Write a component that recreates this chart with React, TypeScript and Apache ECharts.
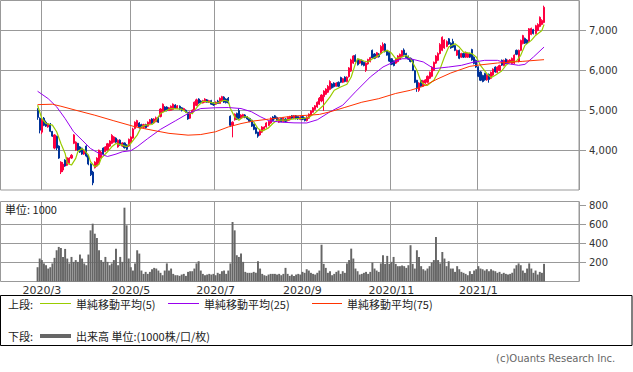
import React, { useEffect, useRef } from 'react';
import * as echarts from 'echarts';

// ---- data ----
const FIRST_DAY = '2020-02-27';
const LAST_DAY = '2021-02-18';
const HOLIDAYS = [
  '2020-03-20', '2020-04-29', '2020-05-04', '2020-05-05', '2020-05-06',
  '2020-07-23', '2020-07-24', '2020-08-10', '2020-09-21', '2020-09-22',
  '2020-11-03', '2020-11-23', '2020-12-31', '2021-01-01', '2021-01-11', '2021-02-11',
];
const PAD_BEFORE = 17;
const PAD_AFTER = 16;

// [open, close, low, high] per trading day
const OHLC: number[][] = [
  [5000,4820,4760,5050],[4800,4500,4420,4820],[4450,4750,4400,4800],[4800,4620,4600,4830],[4700,4600,4580,4740],
  [4580,4660,4560,4680],[4650,4470,4450,4680],[4470,4350,4330,4480],[4050,4380,4020,4400],[4350,4050,4000,4360],
  [4100,3800,3780,4120],[3450,3700,3400,3720],[3500,3650,3450,3700],[3750,3600,3580,3770],[3620,3810,3600,3830],
  [3680,3800,3660,3820],[3800,3870,3780,3900],[4170,4380,4150,4400],[4000,4200,3980,4220],[4170,4000,3980,4180],
  [4080,3950,3930,4100],[4050,3900,3880,4060],[3900,4000,3880,4020],[4100,3850,3820,4120],[3870,3650,3620,3880],
  [3650,3380,3350,3670],[3450,3180,3120,3480],[3560,3700,3540,3720],[3600,3800,3580,3820],[3680,4000,3660,4010],
  [3800,3950,3790,3980],[4050,3900,3880,4070],[3960,4080,3950,4100],[4000,4160,3990,4180],[4100,4230,4080,4250],
  [4170,4370,4150,4400],[4200,4330,4190,4350],[4300,4200,4180,4320],[4080,4250,4060,4270],[4250,4130,4110,4270],
  [4100,4180,4080,4200],[4180,4060,4040,4190],[4130,4020,4000,4150],[4100,4270,4080,4290],[4200,4330,4180,4350],
  [4300,4530,4290,4560],[4540,4700,4520,4720],[4600,4740,4580,4760],[4680,4560,4540,4700],[4640,4570,4550,4660],
  [4570,4640,4560,4660],[4640,4560,4540,4660],[4600,4700,4580,4720],[4660,4760,4640,4780],[4780,4680,4660,4800],
  [4680,4780,4660,4800],[4710,4810,4700,4840],[4820,4700,4680,4840],[4840,5030,4820,5050],[4960,5150,4940,5170],
  [5080,4980,4960,5100],
  [5080,4990,4970,5100],[4990,5060,4980,5080],[5000,5100,4990,5120],[5020,5150,5000,5170],[5130,5060,5040,5150],
  [5050,5110,5040,5130],[5100,5030,5010,5120],[5060,4990,4970,5080],[4990,5040,4980,5060],[5000,4960,4940,5020],
  [4950,4780,4760,4960],[4800,4950,4780,4970],[4920,5000,4900,5020],[5000,5200,4990,5220],[5120,5260,5100,5290],
  [5280,5180,5160,5300],[5230,5180,5160,5250],[5180,5240,5170,5260],[5200,5280,5190,5300],[5260,5200,5190,5280],
  [5200,5240,5180,5260],[5240,5150,5130,5260],[5180,5130,5110,5200],[5150,5200,5130,5220],[5230,5170,5160,5260],
  [5170,5300,5160,5320],[5230,5340,5220,5360],[5330,5200,5180,5350],[5280,5190,5170,5300],[5300,5180,5160,5330],
  [4850,4620,4580,4870],[4620,4700,4320,4720],[4760,4900,4740,4920],[4920,4780,4760,4940],[4990,4800,4780,5050],
  [4800,4880,4780,4900],[4820,4890,4800,4910],[4880,4820,4800,4900],[4830,4780,4760,4850],[4790,4720,4700,4810],
  [4750,4600,4580,4760],[4650,4520,4500,4660],[4560,4420,4400,4580],[4450,4350,4310,4460],[4380,4480,4360,4500],
  [4450,4580,4430,4600],[4520,4580,4500,4600],[4580,4680,4560,4700],[4620,4720,4600,4740],[4680,4800,4660,4820],
  [4830,4740,4720,4850],[4860,4790,4770,4880],[4820,4740,4720,4840],[4700,4780,4680,4800],[4790,4710,4700,4810],
  [4720,4800,4700,4820],[4780,4720,4700,4800],[4740,4820,4720,4840],[4760,4840,4740,4860],[4860,4800,4780,4880],
  [4800,4860,4780,4880],[4860,4790,4770,4880],[4840,4780,4760,4850],
  [4770,4830,4750,4850],[4840,4770,4750,4860],[4800,4740,4720,4820],[4740,4830,4720,4850],[4800,4900,4780,4920],
  [4880,4980,4860,5000],[4950,5060,4940,5080],[5020,5110,5000,5130],[5080,5200,5060,5220],[5150,5300,5130,5330],
  [5230,5380,5200,5400],[5340,5480,4980,5500],[5400,5530,5380,5550],[5450,5600,5430,5630],[5520,5720,5500,5750],
  [5660,5560,5540,5680],[5680,5590,5570,5700],[5600,5680,5590,5700],[5700,5600,5580,5720],[5820,5700,5680,5840],
  [5700,5790,5680,5810],[5830,5720,5700,5850],[5720,5830,5700,5850],[5840,6060,5820,6080],[5980,6260,5960,6290],
  [6180,6360,6160,6380],[6370,6220,6200,6400],[6270,6140,6120,6290],[6180,6250,6160,6270],[6250,6140,6120,6270],
  [6200,6120,6100,6220],[6000,6180,5960,6200],[6160,6270,6140,6290],[6220,6320,6200,6340],[6500,6310,6290,6520],
  [6410,6300,6280,6430],[6330,6440,6310,6460],[6410,6340,6320,6430],[6420,6600,6400,6630],[6500,6650,6480,6700],
  [6660,6470,6450,6680],[6500,6380,6370,6510],[6450,6230,6210,6470],[6290,6150,6130,6300],[6240,6120,6100,6250],
  [6180,6280,6160,6300],[6220,6360,6200,6380],[6280,6400,6270,6420],[6340,6490,6320,6510],[6510,6390,6370,6550],
  [6420,6320,6300,6440],[6350,6280,6260,6370],[6300,6220,6200,6320],[6250,6000,5980,6280],[5990,5700,5680,6010],
  [5750,5550,5460,5760],[5500,5680,5460,5700],[5750,5600,5580,5760],[5600,5740,5580,5760],[5680,5760,5660,5780],
  [5700,5850,5680,5870],[5800,5950,5780,5970],[5850,6080,5830,6100],[6000,6200,5980,6220],[6180,6360,6160,6380],
  [6250,6420,6230,6450],[6420,6650,6400,6680],[6500,6830,6480,6850],[6560,6760,6540,6780],[6600,6720,6580,6750],
  [6790,6660,6640,6810],[6680,6560,6540,6700],[6720,6580,6560,6790],[6620,6500,6480,6640],[6380,6500,6360,6520],
  [6500,6300,6280,6520],[6330,6420,6310,6440],[6420,6330,6310,6440],[6330,6450,6310,6470],[6330,6420,6310,6440],
  [6420,6330,6310,6440],[6520,6260,6240,6540],[6330,6170,6150,6350],[6250,6080,6060,6270],[6080,5850,5830,6100],
  [5960,5750,5730,5980],[5870,5720,5700,5890],[5920,5760,5740,5940],[5760,5880,5740,5900],[5900,5770,5690,5920],
  [5800,5950,5780,5970],[5880,6030,5860,6050],[6080,5960,5940,6100],[5950,6080,5930,6100],[6000,6120,5980,6140],
  [6250,6130,6110,6270],[6120,6250,6100,6270],[6280,6170,6150,6300],[6180,6250,6160,6270],[6200,6260,6180,6280],
  [6170,6300,6150,6320],[6180,6380,6160,6400],[6500,6400,6380,6520],[6220,6500,6200,6520],[6500,6750,6480,6770],
  [6670,6870,6650,6890],[6800,6680,6660,6820],[6760,6680,6660,6780],[6720,7040,6700,7060],[6900,7050,6880,7070],
  [7020,6920,6900,7040],[6920,7120,6900,7140],[7000,7150,6980,7180],[7100,7330,7080,7350],[7150,7250,7130,7280],
  [7200,7580,7180,7620],
];

// volume (thousand shares) per trading day
const VOLUME: number[] = [
  150,241,225,190,171,136,150,190,248,328,363,352,258,342,241,190,258,206,225,206,
  283,241,190,171,283,537,607,502,457,328,225,206,258,206,171,190,225,345,171,258,
  206,775,590,241,150,115,190,328,293,115,80,101,80,101,129,143,136,115,91,66,
  115,190,115,136,80,66,66,59,73,80,59,101,108,108,136,190,213,115,80,66,
  73,80,73,80,66,91,80,108,115,80,115,190,625,537,276,258,293,206,101,91,
  91,91,101,91,213,136,80,66,59,73,80,80,80,73,80,66,80,143,80,59,
  73,59,73,80,73,101,91,129,115,91,80,73,91,115,386,185,143,91,108,66,
  80,101,115,80,108,91,190,225,345,241,136,108,73,80,91,101,80,101,199,136,
  115,101,190,276,185,269,185,206,258,185,161,161,168,161,143,171,381,185,136,328,
  258,161,129,115,136,161,199,225,467,225,190,310,241,161,213,136,136,101,161,129,
  101,91,80,66,108,80,115,129,161,136,129,115,129,108,129,115,108,91,101,80,
  91,80,73,80,91,136,171,190,171,115,91,136,190,136,91,115,73,101,91,185,
];

// moving averages: [trading-day index, value]
const MA5: number[][] = [
  [0,5125],[2,4792],[4,4667],[7,4625],[9,4460],[11,4167],[13,3917],[14,3667],[16,3625],[18,3792],
  [19,3958],[21,4042],[22,4000],[24,3875],[25,3708],[27,3583],[29,3642],[30,3792],[33,3958],[35,4083],
  [37,4167],[40,4125],[42,4083],[44,4167],[47,4375],[49,4583],[51,4625],[54,4642],[56,4750],[58,4917],
  [61,5000],[63,5042],[68,5025],[71,4917],[73,4917],[76,5125],[78,5225],[81,5208],[84,5167],[88,5250],
  [90,5225],[91,5042],[93,4833],[95,4750],[97,4833],[99,4833],[102,4708],[104,4542],[106,4475],[109,4558],
  [111,4667],[113,4750],[117,4750],[120,4775],[123,4792],[125,4792],[128,4817],[131,4933],[135,5125],[138,5333],
  [140,5500],[143,5583],[146,5650],[148,5833],[150,6167],[151,6292],[154,6233],[156,6208],[158,6292],[161,6375],
  [163,6458],[165,6500],[167,6433],[169,6292],[172,6333],[174,6375],[176,6292],[179,6000],[181,5708],[183,5625],
  [184,5625],[187,5750],[190,6042],[192,6333],[194,6583],[197,6667],[199,6583],[201,6458],[205,6417],[207,6333],
  [209,6125],[212,5917],[214,5817],[216,5875],[219,5983],[221,6125],[223,6208],[226,6233],[228,6375],[230,6625],
  [233,6750],[235,6875],[238,7000],[239,7150],
];
const MA25: number[][] = [
  [0,5475],[5,5290],[9,5085],[13,4790],[17,4460],[21,4250],[25,4040],[29,3917],[33,3840],[37,3900],
  [40,3958],[44,3985],[47,4085],[52,4290],[58,4520],[65,4733],[71,4917],[77,5042],[84,5062],[90,5067],
  [96,5042],[101,4960],[105,4840],[109,4740],[115,4700],[121,4683],[127,4680],[132,4760],[138,4960],[144,5125],
  [150,5460],[157,5833],[163,6083],[168,6210],[172,6290],[176,6290],[182,6210],[187,6042],[194,6083],[200,6125],
  [206,6209],[211,6250],[217,6250],[222,6167],[227,6125],[230,6150],[234,6333],[239,6583],
];
const MA75: number[][] = [
  [0,5140],[7,5150],[11,5100],[18,5000],[27,4875],[36,4735],[46,4585],[54,4500],[62,4420],[71,4375],
  [77,4390],[84,4460],[90,4580],[96,4665],[102,4730],[109,4775],[115,4815],[121,4855],[128,4875],[133,4895],
  [138,4960],[145,5070],[153,5200],[161,5290],[169,5420],[176,5500],[182,5600],[186,5710],[189,5790],[195,5933],
  [204,6100],[208,6130],[217,6183],[229,6225],[239,6267],
];

const PRICE_TICKS = [4000, 5000, 6000, 7000];
const VOLUME_TICKS = [200, 400, 600, 800];

const UP = '#ff0040';
const DOWN = '#003399';
const GRID = '#999999';

function tradingDays(): string[] {
  const hol = new Set(HOLIDAYS);
  const out: string[] = [];
  let t = Date.parse(FIRST_DAY + 'T00:00:00Z');
  const end = Date.parse(LAST_DAY + 'T00:00:00Z');
  while (t <= end) {
    const d = new Date(t);
    const wd = d.getUTCDay();
    const iso = d.toISOString().slice(0, 10);
    if (wd !== 0 && wd !== 6 && !hol.has(iso)) out.push(iso.replace(/-/g, '/'));
    t += 86400000;
  }
  return out;
}

export default function App() {
  const ref = useRef<HTMLDivElement>(null);

  useEffect(() => {
    if (!ref.current) return;
    const chart = echarts.init(ref.current, undefined, { renderer: 'svg' });

    const days = tradingDays();
    const n = Math.min(days.length, OHLC.length, VOLUME.length);
    const pre = Array.from({ length: PAD_BEFORE }, (_, i) => 'pre' + i);
    const post = Array.from({ length: PAD_AFTER }, (_, i) => 'post' + i);
    const cats = [...pre, ...days.slice(0, n), ...post];

    // category indices of the first trading day of odd months
    const marks = new Set<number>();
    const labelOf: Record<string, string> = {};
    for (let i = 1; i < n; i++) {
      const [y, m] = days[i].split('/');
      const pm = days[i - 1].split('/')[1];
      if (m !== pm && Number(m) % 2 === 1) {
        marks.add(i + PAD_BEFORE);
        labelOf[days[i]] = `${y}/${Number(m)}`;
      }
    }
    const markFn = (idx: number) => marks.has(idx);

    const emptyCandle = ['-', '-', '-', '-'];
    const candleData = [
      ...pre.map(() => emptyCandle),
      ...OHLC.slice(0, n),
      ...post.map(() => emptyCandle),
    ];
    const volData = [...pre.map(() => '-'), ...VOLUME.slice(0, n), ...post.map(() => '-')];
    const toLine = (pts: number[][]) => pts.filter(p => p[0] < n).map(([d, v]) => [days[d], v]);

    const catAxisBase = {
      type: 'category' as const,
      data: cats,
      boundaryGap: true,
      axisLine: { show: false },
      axisTick: { show: false },
      splitLine: { show: true, interval: markFn, lineStyle: { color: GRID, width: 1 } },
    };

    const textFont = { fontFamily: 'Noto Sans CJK JP', fontSize: 11, fill: '#222' };

    chart.setOption({
      animation: false,
      backgroundColor: '#ffffff',
      grid: [
        { left: 0.5, top: 0.5, width: 578.5, height: 189.5, show: true, borderColor: GRID, borderWidth: 1, backgroundColor: 'transparent' },
        { left: 0.5, top: 201.5, width: 578.5, height: 80, show: true, borderColor: GRID, borderWidth: 1, backgroundColor: 'transparent' },
      ],
      xAxis: [
        { ...catAxisBase, gridIndex: 0, axisLabel: { show: false } },
        {
          ...catAxisBase,
          gridIndex: 1,
          axisLabel: {
            show: true,
            interval: markFn,
            formatter: (v: string) => labelOf[v] || '',
            margin: 3,
            fontSize: 11,
            fontFamily: 'DejaVu Sans',
            color: '#333',
          },
        },
      ],
      yAxis: [
        {
          type: 'value',
          gridIndex: 0,
          position: 'right',
          min: 3000,
          max: 7750,
          interval: 1000,
          axisLine: { show: false },
          axisTick: { show: true, length: 7, lineStyle: { color: GRID }, customValues: PRICE_TICKS },
          axisLabel: {
            margin: 10,
            fontSize: 10,
            fontFamily: 'DejaVu Sans',
            color: '#333',
            customValues: PRICE_TICKS,
            formatter: (v: number) => (PRICE_TICKS.includes(v) ? v.toLocaleString('en-US') : ''),
          },
          splitLine: { show: true, lineStyle: { color: GRID, width: 1 } },
        },
        {
          type: 'value',
          gridIndex: 1,
          position: 'right',
          min: 0,
          max: 840,
          interval: 200,
          axisLine: { show: false },
          axisTick: { show: true, length: 7, lineStyle: { color: GRID }, customValues: VOLUME_TICKS },
          axisLabel: {
            margin: 10,
            fontSize: 10,
            fontFamily: 'DejaVu Sans',
            color: '#333',
            customValues: VOLUME_TICKS,
            formatter: (v: number) => (VOLUME_TICKS.includes(v) ? String(v) : ''),
          },
          splitLine: { show: false },
        },
      ],
      series: [
        {
          type: 'candlestick',
          name: '株価',
          xAxisIndex: 0,
          yAxisIndex: 0,
          data: candleData,
          barWidth: 1.6,
          itemStyle: { color: UP, color0: DOWN, borderColor: UP, borderColor0: DOWN, borderWidth: 1 },
          z: 2,
        },
        {
          type: 'line', name: '単純移動平均(5)', xAxisIndex: 0, yAxisIndex: 0,
          data: toLine(MA5), showSymbol: false, symbol: 'none',
          lineStyle: { color: '#99cc00', width: 1.2 }, z: 3,
        },
        {
          type: 'line', name: '単純移動平均(25)', xAxisIndex: 0, yAxisIndex: 0,
          data: toLine(MA25), showSymbol: false, symbol: 'none',
          lineStyle: { color: '#9900ee', width: 1 }, z: 3,
        },
        {
          type: 'line', name: '単純移動平均(75)', xAxisIndex: 0, yAxisIndex: 0,
          data: toLine(MA75), showSymbol: false, symbol: 'none',
          lineStyle: { color: '#ff3300', width: 1 }, z: 3,
        },
        {
          type: 'bar',
          name: '出来高',
          xAxisIndex: 1,
          yAxisIndex: 1,
          data: volData,
          barCategoryGap: '8%',
          itemStyle: { color: '#666666' },
          z: 2,
          markLine: {
            silent: true,
            symbol: 'none',
            z: 1,
            label: { show: false },
            lineStyle: { color: GRID, width: 1, type: 'solid' },
            data: VOLUME_TICKS.slice(0, 3).map(v => ({ yAxis: v })),
          },
        },
      ],
      graphic: [
        { type: 'text', x: 5, y: 209, style: { ...textFont, text: '単位: 1000', verticalAlign: 'middle' }, z: 10 },
        { type: 'rect', shape: { x: 0.5, y: 295.5, width: 631.5, height: 50 }, style: { fill: '#fff', stroke: '#000', lineWidth: 1 } },
        { type: 'text', x: 8, y: 303.5, style: { ...textFont, text: '上段:', verticalAlign: 'middle' } },
        { type: 'line', shape: { x1: 40, y1: 303.5, x2: 71, y2: 303.5 }, style: { stroke: '#99cc00', lineWidth: 1 } },
        { type: 'text', x: 76, y: 303.5, style: { ...textFont, text: '単純移動平均(5)', verticalAlign: 'middle' } },
        { type: 'line', shape: { x1: 168, y1: 303.5, x2: 199, y2: 303.5 }, style: { stroke: '#9900ee', lineWidth: 1 } },
        { type: 'text', x: 204, y: 303.5, style: { ...textFont, text: '単純移動平均(25)', verticalAlign: 'middle' } },
        { type: 'line', shape: { x1: 312, y1: 303.5, x2: 342, y2: 303.5 }, style: { stroke: '#ff3300', lineWidth: 1 } },
        { type: 'text', x: 347, y: 303.5, style: { ...textFont, text: '単純移動平均(75)', verticalAlign: 'middle' } },
        { type: 'text', x: 8, y: 336, style: { ...textFont, text: '下段:', verticalAlign: 'middle' } },
        { type: 'line', shape: { x1: 40, y1: 336, x2: 71, y2: 336 }, style: { stroke: '#666666', lineWidth: 4 } },
        { type: 'text', x: 76, y: 336, style: { ...textFont, text: '出来高 単位:(1000株/口/枚)', verticalAlign: 'middle' } },
        { type: 'text', x: 496, y: 358, style: { fontFamily: 'DejaVu Sans', fontSize: 10, fill: '#666', text: '(c)Ouants Research Inc.', verticalAlign: 'middle' } },
      ],
    });

    return () => chart.dispose();
  }, []);

  return (
    <div
      ref={ref}
      style={{ position: 'absolute', left: 0, top: 0, width: 633, height: 372, background: '#fff' }}
    />
  );
}
